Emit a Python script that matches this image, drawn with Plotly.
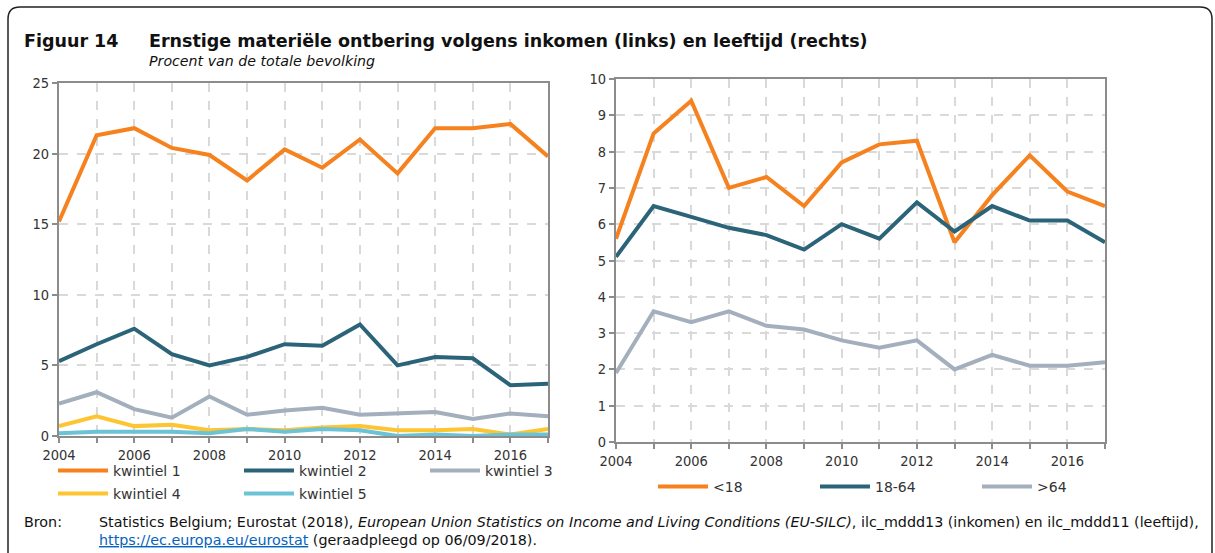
import plotly.graph_objects as go

W, H = 1215, 553

years = list(range(2004, 2018))
q_names = ["kwintiel 1", "kwintiel 2", "kwintiel 3", "kwintiel 4", "kwintiel 5"]
q1 = [15.2, 21.3, 21.8, 20.4, 19.9, 18.1, 20.3, 19.0, 21.0, 18.6, 21.8, 21.8, 22.1, 19.8]
q2 = [5.3, 6.5, 7.6, 5.8, 5.0, 5.6, 6.5, 6.4, 7.9, 5.0, 5.6, 5.5, 3.6, 3.7]
q3 = [2.3, 3.1, 1.9, 1.3, 2.8, 1.5, 1.8, 2.0, 1.5, 1.6, 1.7, 1.2, 1.6, 1.4]
q4 = [0.7, 1.4, 0.7, 0.8, 0.4, 0.5, 0.4, 0.6, 0.7, 0.4, 0.4, 0.5, 0.1, 0.5]
q5 = [0.2, 0.3, 0.3, 0.3, 0.2, 0.5, 0.3, 0.5, 0.4, 0.0, 0.1, 0.0, 0.1, 0.1]

age_names = ["<18", "18-64", ">64"]
a_u18 = [5.6, 8.5, 9.4, 7.0, 7.3, 6.5, 7.7, 8.2, 8.3, 5.5, 6.8, 7.9, 6.9, 6.5]
a_1864 = [5.1, 6.5, 6.2, 5.9, 5.7, 5.3, 6.0, 5.6, 6.6, 5.8, 6.5, 6.1, 6.1, 5.5]
a_o64 = [1.9, 3.6, 3.3, 3.6, 3.2, 3.1, 2.8, 2.6, 2.8, 2.0, 2.4, 2.1, 2.1, 2.2]

left_ticks = [0, 5, 10, 15, 20, 25]
right_ticks = list(range(0, 11))
x_tick_labels = [2004, 2006, 2008, 2010, 2012, 2014, 2016]

ORANGE = "#F5821F"
TEAL = "#2B6478"
GREY = "#A3AFBC"
YELLOW = "#FDC532"
LBLUE = "#6CC3D5"

FONT_C = "DejaVu Sans Condensed"
FONT = "DejaVu Sans"
TXT = "#333333"

fig = go.Figure()

q_legends = ["legend", "legend", "legend", "legend3", "legend3"]
for name, vals, col, lg in zip(q_names, [q1, q2, q3, q4, q5],
                               [ORANGE, TEAL, GREY, YELLOW, LBLUE], q_legends):
    fig.add_trace(go.Scatter(x=years, y=vals, name=name, mode="lines",
                             line=dict(color=col, width=4),
                             xaxis="x", yaxis="y", legend=lg))

for name, vals, col in zip(age_names, [a_u18, a_1864, a_o64], [ORANGE, TEAL, GREY]):
    fig.add_trace(go.Scatter(x=years, y=vals, name=name, mode="lines",
                             line=dict(color=col, width=4),
                             xaxis="x2", yaxis="y2", legend="legend2"))


def px_x(p):
    return p / W


def px_y(p):
    return 1 - p / H


axis_common = dict(showline=True, linecolor="#8C8C8C", linewidth=2, mirror=True,
                   ticks="outside", ticklen=5, tickcolor="#8C8C8C", tickwidth=2,
                   showgrid=True, gridcolor="#D9D9D9", griddash="dash", gridwidth=1.5,
                   zeroline=False, tickfont=dict(family=FONT_C, size=14.5, color=TXT))

xt_text = [str(y) if y in x_tick_labels else "" for y in years]

leg_common = dict(orientation="h", xanchor="left", yanchor="top",
                  entrywidthmode="pixels", tracegroupgap=0,
                  font=dict(family=FONT, size=14, color=TXT), bgcolor="rgba(0,0,0,0)",
                  itemwidth=50)

fig.update_layout(
    width=W, height=H,
    margin=dict(l=0, r=0, t=0, b=0, autoexpand=False),
    paper_bgcolor="white", plot_bgcolor="white",
    font=dict(family=FONT, color=TXT),
    xaxis=dict(axis_common, domain=[px_x(59), px_x(548)], anchor="y",
               range=[2004, 2017], tickvals=years, ticktext=xt_text),
    yaxis=dict(axis_common, domain=[px_y(436), px_y(83)], anchor="x",
               range=[0, 25], tickvals=left_ticks),
    xaxis2=dict(axis_common, domain=[px_x(616), px_x(1105)], anchor="y2",
                range=[2004, 2017], tickvals=years, ticktext=xt_text),
    yaxis2=dict(axis_common, domain=[px_y(442), px_y(79)], anchor="x2",
                range=[0, 10], tickvals=right_ticks),
    legend=dict(leg_common, x=px_x(53), y=px_y(455), entrywidth=121),
    legend3=dict(leg_common, x=px_x(53), y=px_y(478), entrywidth=121),
    legend2=dict(leg_common, x=px_x(653), y=px_y(471), entrywidth=97),
    showlegend=True,
)

# Frame (rounded, open at bottom)
x0, x1, y0, r = 8, 1212, 7, 12
yb = 600
path = (f"M {px_x(x0)} {px_y(yb)} L {px_x(x0)} {px_y(y0 + r)} "
        f"Q {px_x(x0)} {px_y(y0)} {px_x(x0 + r)} {px_y(y0)} "
        f"L {px_x(x1 - r)} {px_y(y0)} Q {px_x(x1)} {px_y(y0)} {px_x(x1)} {px_y(y0 + r)} "
        f"L {px_x(x1)} {px_y(yb)}")
fig.add_shape(type="path", path=path, xref="paper", yref="paper",
              line=dict(color="#222222", width=1.5))

ann = [
    dict(text="<b>Figuur 14</b>", x=px_x(22), y=px_y(41), size=17.5),
    dict(text="<b>Ernstige materiële ontbering volgens inkomen (links) en leeftijd (rechts)</b>",
         x=px_x(147), y=px_y(41), size=17.5),
    dict(text="<i>Procent van de totale bevolking</i>", x=px_x(147), y=px_y(61), size=14.2),
    dict(text="Bron:", x=px_x(22), y=px_y(522), size=14.3),
    dict(text="Statistics Belgium; Eurostat (2018), <i>European Union Statistics on Income and Living Conditions (EU-SILC)</i>, "
              "ilc_mddd13 (inkomen) en ilc_mddd11 (leeftijd),",
         x=px_x(97), y=px_y(522), size=14.3),
    dict(text="<span style='color:#0563C1'><u>https://ec.europa.eu/eurostat</u></span> (geraadpleegd op 06/09/2018).",
         x=px_x(97), y=px_y(540), size=14.3),
]
for a in ann:
    fig.add_annotation(text=a["text"], x=a["x"], y=a["y"], xref="paper", yref="paper",
                       xanchor="left", yanchor="middle", showarrow=False,
                       font=dict(family=FONT, size=a["size"], color="#111111"))

fig.write_html("out.html", config={"displayModeBar": False},
               post_script="document.body.style.margin='0';")
